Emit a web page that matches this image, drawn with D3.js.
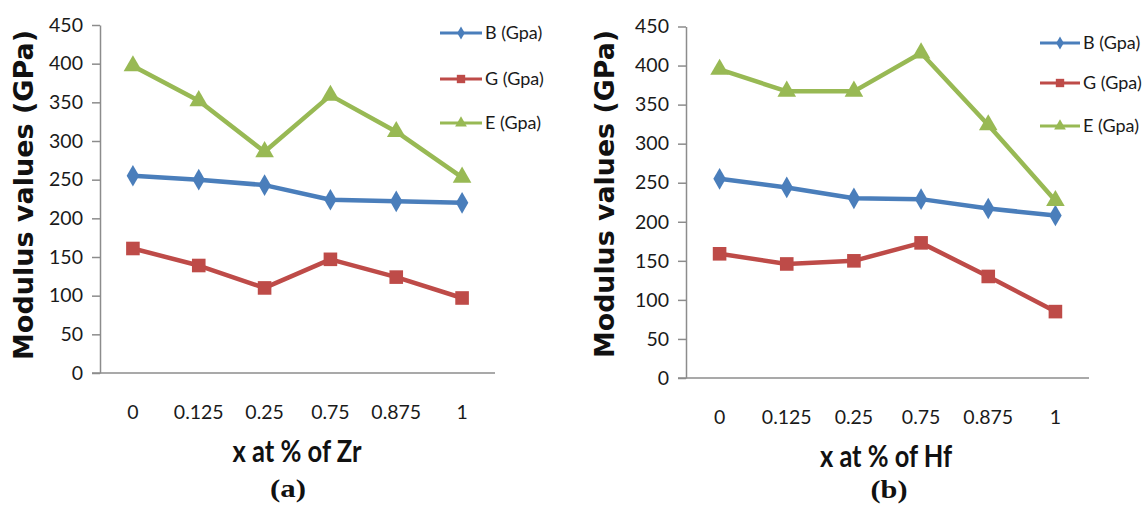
<!DOCTYPE html>
<html>
<head>
<meta charset="utf-8">
<script src="https://cdn.jsdelivr.net/npm/d3@7"></script>
<style>
  html, body { margin: 0; padding: 0; background: #ffffff; }
  svg { display: block; }
</style>
</head>
<body>
<svg id="chart" width="1144" height="506"></svg>
<script>
// ---- data ----
const categories = ["0", "0.125", "0.25", "0.75", "0.875", "1"];
const seriesNames = ["B (Gpa)", "G (Gpa)", "E (Gpa)"];
const yTicks = [0, 50, 100, 150, 200, 250, 300, 350, 400, 450];

const zrB = [255, 250, 243, 224, 222, 220];
const zrG = [161, 139, 110, 147, 124, 97];
const zrE = [397, 352, 286, 359, 312, 253];

const hfB = [255, 244, 230, 229, 217, 208];
const hfG = [159, 146, 150, 173, 130, 85];
const hfE = [395, 367, 367, 416, 324, 227];

const xTitles = ["x at % of Zr", "x at % of Hf"];
const panelLabels = ["(a)", "(b)"];
const yTitle = "Modulus values (GPa)";

// ---- styles ----
const colors = ["#4A7EBB", "#BE4B48", "#98B954"];
const markers = [d3.symbolDiamond, d3.symbolSquare, d3.symbolTriangle];
const markerSizes = [135, 185, 150];
const legendMarkerSizes = [50, 70, 60];
const axisColor = "#8c8c8c";

const svg = d3.select("#chart");

const panels = [
  { series: [zrB, zrG, zrE], x0: 100, x1: 495, yTop: 25, yBot: 373,
    xTitle: xTitles[0], xTitleX: 297, xTitleY: 462, xTitleLen: 129,
    label: panelLabels[0], labelX: 288, labelY: 497, labelLen: 36,
    yTitleX: 33, yTitleY: 195, yTitleLen: 330,
    legX0: 440, legX1: 482, legText: 485, legRows: [33, 79, 123] },
  { series: [hfB, hfG, hfE], x0: 686, x1: 1089, yTop: 26.5, yBot: 378,
    xTitle: xTitles[1], xTitleX: 886, xTitleY: 467, xTitleLen: 132,
    label: panelLabels[1], labelX: 889, labelY: 498, labelLen: 37,
    yTitleX: 614, yTitleY: 194, yTitleLen: 328,
    legX0: 1040, legX1: 1080, legText: 1083, legRows: [43, 83, 126] }
];

panels.forEach(p => {
  const g = svg.append("g");
  const x = d3.scaleBand().domain(categories).range([p.x0, p.x1]);
  const y = d3.scaleLinear().domain([0, 450]).range([p.yBot, p.yTop]);

  // y axis
  const yAxis = g.append("g")
    .attr("transform", `translate(${p.x0},0)`)
    .call(d3.axisLeft(y).tickValues(yTicks).tickSize(8).tickSizeOuter(0).tickPadding(9));
  yAxis.select(".domain").attr("stroke", axisColor).attr("stroke-width", 1.5);
  yAxis.selectAll(".tick line").attr("stroke", axisColor).attr("stroke-width", 1.5);
  yAxis.selectAll(".tick text")
    .attr("font-family", "Lato, 'Open Sans', sans-serif")
    .attr("font-size", 19.5).attr("fill", "#1a1a1a");

  // x axis
  const xAxis = g.append("g")
    .attr("transform", `translate(0,${p.yBot})`)
    .call(d3.axisBottom(x).tickSize(0).tickPadding(32));
  xAxis.select(".domain").remove();
  xAxis.selectAll(".tick text")
    .attr("font-family", "Lato, 'Open Sans', sans-serif")
    .attr("font-size", 19.5).attr("fill", "#1a1a1a");
  g.append("line")
    .attr("x1", p.x0 - 8).attr("x2", p.x1)
    .attr("y1", p.yBot).attr("y2", p.yBot)
    .attr("stroke", axisColor).attr("stroke-width", 1.5);

  // series
  const line = d3.line()
    .x((d, i) => x(categories[i]) + x.bandwidth() / 2)
    .y(d => y(d));
  p.series.forEach((vals, si) => {
    g.append("path").datum(vals)
      .attr("d", line)
      .attr("fill", "none")
      .attr("stroke", colors[si])
      .attr("stroke-width", 4.5)
      .attr("stroke-linejoin", "round");
    g.selectAll(null).data(vals).enter().append("path")
      .attr("d", d3.symbol().type(markers[si]).size(markerSizes[si]))
      .attr("transform", (d, i) => `translate(${x(categories[i]) + x.bandwidth() / 2},${y(d)})`)
      .attr("fill", colors[si]);
  });

  // legend
  seriesNames.forEach((name, si) => {
    const ly = p.legRows[si];
    g.append("line")
      .attr("x1", p.legX0).attr("x2", p.legX1)
      .attr("y1", ly).attr("y2", ly)
      .attr("stroke", colors[si]).attr("stroke-width", 3);
    g.append("path")
      .attr("d", d3.symbol().type(markers[si]).size(legendMarkerSizes[si]))
      .attr("transform", `translate(${(p.legX0 + p.legX1) / 2},${ly})`)
      .attr("fill", colors[si]);
    g.append("text")
      .attr("x", p.legText).attr("y", ly)
      .attr("dy", "0.35em")
      .attr("font-family", "Lato, 'Open Sans', sans-serif")
      .attr("font-size", 18).attr("fill", "#1a1a1a")
      .text(name);
  });

  // y title
  g.append("text")
    .attr("transform", `translate(${p.yTitleX},${p.yTitleY}) rotate(-90)`)
    .attr("text-anchor", "middle")
    .attr("font-family", "'DejaVu Sans', sans-serif")
    .attr("font-weight", "bold")
    .attr("font-size", 26)
    .attr("textLength", p.yTitleLen)
    .attr("lengthAdjust", "spacingAndGlyphs")
    .attr("fill", "#111")
    .text(yTitle);

  // x title
  g.append("text")
    .attr("x", p.xTitleX).attr("y", p.xTitleY)
    .attr("text-anchor", "middle")
    .attr("font-family", "Lato, 'Open Sans', sans-serif")
    .attr("font-weight", "bold")
    .attr("font-size", 30)
    .attr("textLength", p.xTitleLen)
    .attr("lengthAdjust", "spacingAndGlyphs")
    .attr("fill", "#111")
    .text(p.xTitle);

  // panel label
  g.append("text")
    .attr("x", p.labelX).attr("y", p.labelY)
    .attr("text-anchor", "middle")
    .attr("font-family", "'Liberation Serif', 'Times New Roman', serif")
    .attr("font-weight", "bold")
    .attr("font-size", 25)
    .attr("textLength", p.labelLen)
    .attr("lengthAdjust", "spacingAndGlyphs")
    .attr("fill", "#111")
    .text(p.label);
});
</script>
</body>
</html>
